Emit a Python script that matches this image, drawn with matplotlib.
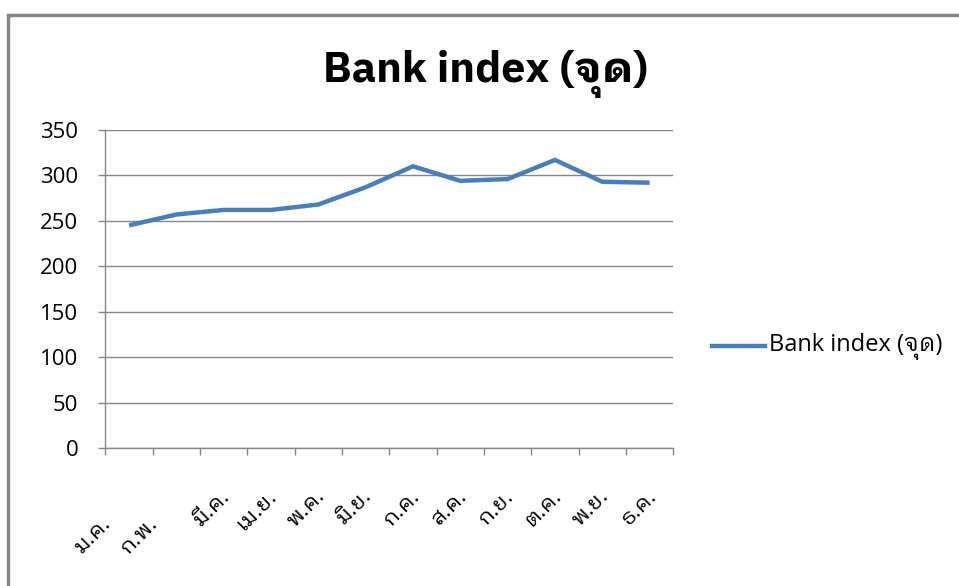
import numpy as np
import matplotlib
matplotlib.use('Agg')
import matplotlib.pyplot as plt
from matplotlib import font_manager
from matplotlib.ft2font import FT2Font
from matplotlib.lines import Line2D
from matplotlib.patches import Rectangle
from matplotlib.transforms import ScaledTranslation

# monthly bank index (points)
months = ['ม.ค.', 'ก.พ.', 'มี.ค.', 'เม.ย.', 'พ.ค.', 'มิ.ย.',
          'ก.ค.', 'ส.ค.', 'ก.ย.', 'ต.ค.', 'พ.ย.', 'ธ.ค.']
bank_index = [245, 257, 262, 262, 268, 287, 310, 294, 296, 317, 293, 292]
series_name = 'Bank index (จุด)'
y_ticks = [0, 50, 100, 150, 200, 250, 300, 350]


def thai_family():
    # installed fonts with Thai glyphs, looped styles first
    found = []
    for f in font_manager.fontManager.ttflist:
        try:
            if 0x0E08 in FT2Font(f.fname).get_charmap():
                found.append(f.name)
        except Exception:
            pass
    for key in ['Tahoma', 'Looped', 'Loma', 'Garuda', 'Norasi', 'Kinnari']:
        for name in found:
            if key in name:
                return name
    return found[0] if found else None


thai = thai_family()
fams = ['Open Sans', 'DejaVu Sans']
title_fams = ['DejaVu Sans']
if thai:
    fams = ['Open Sans', thai, 'DejaVu Sans']
    title_fams = [thai, 'DejaVu Sans']
plt.rcParams['font.family'] = fams

fig = plt.figure(figsize=(9.59, 5.86), dpi=100)
ax = fig.add_axes([0.110, 0.2355, 0.592, 0.5427])

x = np.arange(len(months))
ax.plot(x, bank_index, color='#4a7ebb', lw=3.2, solid_capstyle='butt',
        solid_joinstyle='miter')

ax.set_xlim(-0.5, len(months) - 0.5)
ax.set_ylim(0, 350)
ax.set_yticks(y_ticks)
ax.set_yticklabels([str(v) for v in y_ticks], fontsize=16)
ax.yaxis.grid(True, color='#868686', lw=1)
ax.set_axisbelow(True)

# tick marks between categories, labels at the centres
ax.set_xticks(np.arange(len(months) + 1) - 0.5)
ax.set_xticklabels([])
ax.set_xticks(x, minor=True)
ax.set_xticklabels(months, minor=True, rotation=45, ha='right', va='top',
                   rotation_mode='anchor', fontsize=16)
ax.tick_params(axis='x', which='minor', length=0, pad=27)
ax.tick_params(axis='x', which='major', length=5, color='#868686', width=1)
ax.tick_params(axis='y', length=5, color='#868686', width=1, pad=14.5)

# nudge the month labels; the first two sit further down-left
for i, lbl in enumerate(ax.get_xticklabels(minor=True)):
    dx, dy = (-21, -20) if i < 2 else (-3, 0)
    lbl.set_transform(lbl.get_transform() +
                      ScaledTranslation(dx / 72, dy / 72, fig.dpi_scale_trans))

for s in ['top', 'right']:
    ax.spines[s].set_visible(False)
for s in ['left', 'bottom']:
    ax.spines[s].set_color('#868686')
    ax.spines[s].set_linewidth(1)

fig.text(485 / 959, 1 - 82 / 586, series_name, ha='center', va='baseline',
         fontsize=31, fontweight='bold', family=title_fams)

# legend drawn by hand to the right of the plot
leg_y = 1 - 346 / 586
fig.add_artist(Line2D([712 / 959, 765 / 959], [leg_y, leg_y],
                      color='#4a7ebb', lw=3.2, transform=fig.transFigure))
fig.text(769 / 959, leg_y, series_name, ha='left', va='center', fontsize=17)

# outer chart frame
fig.add_artist(Rectangle((8 / 959, -0.05), 1.2, 1 - 15 / 586 + 0.05,
                         transform=fig.transFigure, fill=False,
                         edgecolor='#868686', lw=2.5))

fig.savefig('out.png', dpi=100)
